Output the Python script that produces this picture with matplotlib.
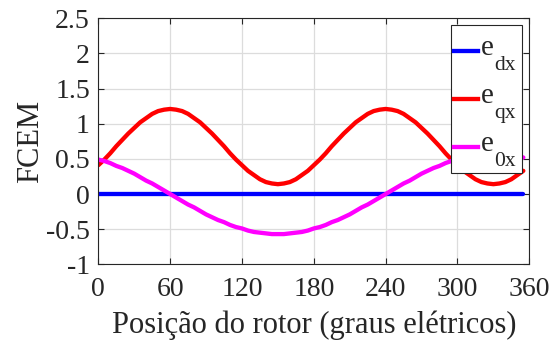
import numpy as np
import matplotlib
matplotlib.use("Agg")
import matplotlib.pyplot as plt
from matplotlib.patches import Rectangle
from matplotlib.lines import Line2D

# Rotor position (electrical degrees)
theta = [0, 5, 10, 15, 20, 25, 30, 35, 40, 45, 50, 55, 60, 65, 70, 75, 80, 85,
         90, 95, 100, 105, 110, 115, 120, 125, 130, 135, 140, 145, 150, 155,
         160, 165, 170, 175, 180, 185, 190, 195, 200, 205, 210, 215, 220, 225,
         230, 235, 240, 245, 250, 255, 260, 265, 270, 275, 280, 285, 290, 295,
         300, 305, 310, 315, 320, 325, 330, 335, 340, 345, 350, 355]

# Back-EMF components in the dq0 frame
e_dx = [0.0] * len(theta)
e_qx = [0.41, 0.49, 0.58, 0.68, 0.77, 0.86, 0.94, 1.02, 1.08, 1.14, 1.18, 1.20,
        1.21, 1.20, 1.18, 1.14, 1.08, 1.02, 0.94, 0.86, 0.77, 0.68, 0.58, 0.49,
        0.41, 0.33, 0.27, 0.21, 0.17, 0.15, 0.14, 0.15, 0.17, 0.21, 0.27, 0.33,
        0.41, 0.49, 0.58, 0.68, 0.77, 0.86, 0.94, 1.02, 1.08, 1.14, 1.18, 1.20,
        1.21, 1.20, 1.18, 1.14, 1.08, 1.02, 0.94, 0.86, 0.77, 0.68, 0.58, 0.49,
        0.41, 0.33, 0.27, 0.21, 0.17, 0.15, 0.14, 0.15, 0.17, 0.21, 0.27, 0.33]
e_0x = [0.49, 0.47, 0.44, 0.40, 0.37, 0.33, 0.29, 0.24, 0.19, 0.15, 0.10, 0.05,
        0.00, -0.05, -0.10, -0.15, -0.19, -0.24, -0.29, -0.33, -0.37, -0.40,
        -0.44, -0.47, -0.49, -0.52, -0.54, -0.55, -0.56, -0.57, -0.57, -0.57,
        -0.56, -0.55, -0.54, -0.52, -0.49, -0.47, -0.44, -0.40, -0.37, -0.33,
        -0.29, -0.24, -0.19, -0.15, -0.10, -0.05, 0.00, 0.05, 0.10, 0.15, 0.19,
        0.24, 0.29, 0.33, 0.37, 0.40, 0.44, 0.47, 0.49, 0.52, 0.54, 0.55, 0.56,
        0.57, 0.57, 0.57, 0.56, 0.55, 0.54, 0.52]

subscripts = ["dx", "qx", "0x"]
colors = ["#0000ff", "#ff0000", "#ff00ff"]

xticks = [0, 60, 120, 180, 240, 300, 360]
yticks = [-1, -0.5, 0, 0.5, 1, 1.5, 2, 2.5]
ytick_labels = ["-1", "-0.5", "0", "0.5", "1", "1.5", "2", "2.5"]

plt.rcParams["font.family"] = ["Liberation Serif", "DejaVu Serif"]
axis_color = "#262626"

fig = plt.figure(figsize=(5.57, 3.47), dpi=100)
ax = fig.add_axes([0.1765, 0.2383, 0.7738, 0.709])

for ys, c in zip([e_dx, e_qx, e_0x], colors):
    ax.plot(theta, ys, color=c, lw=3.1, solid_capstyle="round",
            solid_joinstyle="round")

ax.set_xlim(0, 360)
ax.set_ylim(-1, 2.5)
ax.set_xticks(xticks)
ax.set_yticks(yticks)
ax.set_yticklabels(ytick_labels)
ax.grid(True, color="#dcdcdc", lw=0.9)
ax.set_axisbelow(True)
ax.tick_params(direction="in", length=4, width=0.8, colors=axis_color,
               labelsize=20, top=True, right=True)
ax.tick_params(axis="x", pad=9)
ax.tick_params(axis="y", pad=6)
for s in ax.spines.values():
    s.set_color(axis_color)
    s.set_linewidth(0.8)

ax.set_xlabel("Posição do rotor (graus elétricos)", fontsize=22,
              color=axis_color, labelpad=6)
ax.set_ylabel("FCEM", fontsize=22, color=axis_color, labelpad=0.5)

# Legend box drawn in axes fraction: line sample, "e" and a dropped subscript
tr = ax.transAxes
ax.add_patch(Rectangle((0.818, 0.370), 0.166, 0.603, transform=tr,
                       facecolor="white", edgecolor=axis_color, lw=0.8,
                       zorder=5, clip_on=False))
row_step = 0.196
for i, (sub, c) in enumerate(zip(subscripts, colors)):
    y_line = 0.867 - i * row_step
    ax.add_line(Line2D([0.826, 0.882], [y_line, y_line], transform=tr,
                       color=c, lw=3.1, zorder=6, clip_on=False))
    ax.text(0.887, y_line - 0.016, "e", transform=tr, fontsize=21,
            color=axis_color, va="baseline", ha="left", zorder=7)
    ax.text(0.918, y_line - 0.077, sub, transform=tr, fontsize=15.5,
            color=axis_color, va="baseline", ha="left", zorder=7)

fig.savefig("out.png", dpi=100)
